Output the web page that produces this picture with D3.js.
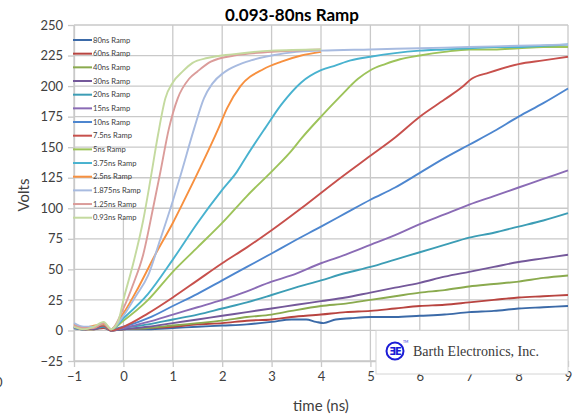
<!DOCTYPE html>
<html>
<head>
<meta charset="utf-8">
<script src="https://cdn.jsdelivr.net/npm/d3@7"></script>
<style>
  body { margin: 0; background: #fff; }
  svg { display: block; font-family: Lato, "Open Sans", sans-serif; }
</style>
</head>
<body>
<div id="chart"></div>
<script>
// Series names, in legend order
var seriesNames = ["80ns Ramp", "60ns Ramp", "40ns Ramp", "30ns Ramp", "20ns Ramp", "15ns Ramp",
    "10ns Ramp", "7.5ns Ramp", "5ns Ramp", "3.75ns Ramp", "2.5ns Ramp", "1.875ns Ramp",
    "1.25ns Ramp", "0.93ns Ramp"];

var seriesColors = ["#3b6aa8", "#b84440", "#8aaa4e", "#74589a", "#3c9db5", "#8a6bb5",
    "#4d86cf", "#c7504c", "#9dc35a", "#48b2cf", "#f7903f", "#a8bbe0", "#db9c9a", "#c4da9f"];

// [time (ns), volts]
var ramp80 = [[-1,3],[-0.8,1],[-0.6,2],[-0.4,3],[-0.25,0],[0,1],[0.5,1],[1,2],[1.5,3],[2,4],[2.5,5],
    [3,7],[3.4,9],[3.7,9],[3.9,7],[4.05,6],[4.3,9],[4.6,10],[5,11],[5.5,11],[6,12],[6.5,13],[7,15],
    [7.5,16],[8,18],[8.5,19],[9,20]];
var ramp60 = [[-1,2],[-0.8,1],[-0.6,1],[-0.4,2],[-0.25,0],[0,1],[0.5,2],[1,3],[1.5,5],[2,6],[2.5,8],
    [3,9],[3.4,11],[4,13],[4.5,15],[5,16],[5.5,18],[6,20],[6.5,21],[7,23],[7.5,25],[8,27],[8.5,28],[9,29]];
var ramp40 = [[-1,2],[-0.8,1],[-0.6,1],[-0.4,3],[-0.25,0],[0,1],[0.5,2],[1,4],[1.5,6],[2,8],[2.5,11],
    [3,13],[3.4,16],[4,20],[4.5,22],[5,25],[5.5,28],[6,31],[6.5,33],[7,36],[7.5,38],[8,40],[8.5,43],[9,45]];
var ramp30 = [[-1,3],[-0.8,2],[-0.6,1],[-0.4,3],[-0.25,0],[0,1],[0.5,3],[1,6],[1.5,9],[2,12],[2.5,15],
    [3,18],[3.5,21],[4,24],[4.5,27],[5,31],[5.5,35],[6,39],[6.5,44],[7,48],[7.5,52],[8,56],[8.5,59],[9,62]];
var ramp20 = [[-1,2],[-0.8,1],[-0.6,2],[-0.4,3],[-0.25,0],[0,2],[0.5,5],[1,9],[1.5,13],[2,18],[2.5,23],
    [3,29],[3.4,34],[4,41],[4.5,47],[5,52],[5.5,58],[6,64],[6.5,70],[7,76],[7.5,80],[8,85],[8.5,90],[9,96]];
var ramp15 = [[-1,3],[-0.8,1],[-0.6,2],[-0.4,4],[-0.25,0],[0,2],[0.5,7],[1,13],[1.5,19],[2,25],[2.5,32],
    [3,40],[3.4,45],[4,55],[4.5,62],[5,70],[5.5,78],[6,87],[6.5,95],[7,103],[7.5,110],[8,117],[8.5,124],[9,131]];
var ramp10 = [[-1,2],[-0.8,1],[-0.6,2],[-0.4,4],[-0.25,1],[0,3],[0.5,10],[1,20],[1.5,30],[2,41],[2.5,52],
    [3,63],[3.4,72],[4,85],[4.5,96],[5,107],[5.5,117],[6,129],[6.5,141],[7,152],[7.5,163],[8,175],[8.5,186],[9,198]];
var ramp7p5 = [[-1,3],[-0.8,1],[-0.6,2],[-0.4,4],[-0.25,0],[0,3],[0.5,14],[1,27],[1.5,41],[2,55],[2.5,68],
    [3,82],[3.6,100],[4.3,122],[5,143],[5.5,158],[6,175],[6.5,189],[6.85,199],[7.05,206],[7.4,211],[8,218],
    [8.5,221],[9,224]];
var ramp5 = [[-1,4],[-0.8,2],[-0.6,3],[-0.4,6],[-0.25,1],[0,8],[0.5,25],[1,48],[1.5,68],[2,88],[2.5,110],
    [3.05,132],[3.4,147],[3.6,157],[4,175],[4.4,192],[4.75,206],[5,213],[5.3,218],[5.6,222],[6,225],
    [6.5,228],[7,230],[7.5,230],[8,231],[8.5,232],[9,232]];
var ramp3p75 = [[-1,4],[-0.8,2],[-0.6,3],[-0.4,5],[-0.25,1],[0,10],[0.5,30],[1,58],[1.5,88],[2,115],
    [2.3,130],[2.5,143],[2.86,165],[3.2,185],[3.6,203],[4,213],[4.3,217],[4.6,221],[5,224],[5.5,227],
    [6,229],[6.5,230],[7,231],[7.5,232],[8,232],[8.5,233],[9,234]];
var ramp2p5 = [[-1,5],[-0.8,2],[-0.6,4],[-0.4,5],[-0.25,1],[0,14],[0.3,35],[0.67,64],[1,88],[1.2,104],
    [1.54,132],[1.92,165],[2.1,182],[2.37,200],[2.84,214],[3.2,220],[3.6,225],[4,228]];
var ramp1p875 = [[-1,6],[-0.8,3],[-0.6,3],[-0.4,6],[-0.25,1],[0,12],[0.25,28],[0.5,45],[0.75,75],[1,106],
    [1.15,126],[1.43,165],[1.63,190],[1.8,202],[2.03,211],[2.3,217],[2.58,221],[3,225],[3.5,228],[4,229],
    [5,230],[6,231],[7,232],[8,233],[9,234]];
var ramp1p25 = [[-1,4],[-0.8,2],[-0.6,2],[-0.4,6],[-0.25,1],[0,18],[0.2,38],[0.4,62],[0.6,100],[0.75,130],
    [0.92,165],[1.1,190],[1.33,206],[1.5,212],[1.77,220],[2.24,225],[3,228],[4,230]];
var ramp0p93 = [[-1,3],[-0.8,1],[-0.6,3],[-0.4,7],[-0.25,1],[-0.1,8],[0,25],[0.2,55],[0.4,90],[0.55,124],
    [0.7,160],[0.85,190],[1,203],[1.2,212],[1.4,219],[1.7,223],[2.2,226],[3,229],[4,230]];

var seriesData = [ramp80, ramp60, ramp40, ramp30, ramp20, ramp15, ramp10, ramp7p5, ramp5,
    ramp3p75, ramp2p5, ramp1p875, ramp1p25, ramp0p93];

var xTicks = [-1, 0, 1, 2, 3, 4, 5, 6, 7, 8, 9];
var yTicks = [-25, 0, 25, 50, 75, 100, 125, 150, 175, 200, 225, 250];

var width = 579, height = 417;
var gridColor = "#c9c9c9", textColor = "#404040";

var svg = d3.select("#chart")
    .append("svg")
    .attr("width", width)
    .attr("height", height);

var x = d3.scaleLinear().domain([-1, 9]).range([74, 568]);
var y = d3.scaleLinear().domain([-25, 250]).range([361, 25]);

// Gridlines
svg.append("g").selectAll("line")
    .data(yTicks)
    .enter()
    .append("line")
    .attr("x1", x(-1)).attr("x2", x(9))
    .attr("y1", function(d) { return y(d); })
    .attr("y2", function(d) { return y(d); })
    .attr("stroke", gridColor)
    .attr("stroke-width", 1.3);

// the x=0 gridline is hidden behind the legend at the top
svg.append("g").selectAll("line")
    .data(xTicks)
    .enter()
    .append("line")
    .attr("x1", function(d) { return x(d); })
    .attr("x2", function(d) { return x(d); })
    .attr("y1", function(d) { return d == 0 ? y(93) : y(250); })
    .attr("y2", y(-25))
    .attr("stroke", gridColor)
    .attr("stroke-width", 1.3);

// Axes with outside ticks
var yAxis = svg.append("g")
    .attr("transform", "translate(" + x(-1) + ",0)")
    .call(d3.axisLeft(y).tickValues(yTicks).tickSize(6).tickSizeOuter(0).tickPadding(5));
var xAxis = svg.append("g")
    .attr("transform", "translate(0," + y(-25) + ")")
    .call(d3.axisBottom(x).tickValues(xTicks).tickSize(6).tickSizeOuter(0).tickPadding(5));

[yAxis, xAxis].forEach(function(ax) {
    ax.select(".domain").attr("stroke", gridColor).attr("stroke-width", 1.3);
    ax.selectAll(".tick line").attr("stroke", gridColor).attr("stroke-width", 1.3);
    ax.selectAll(".tick text")
        .attr("fill", textColor)
        .style("font-size", "13px")
        .style("font-family", "Lato, sans-serif");
});

// stray clipped label at far left
svg.append("text")
    .attr("x", -5).attr("y", 387)
    .attr("fill", textColor)
    .style("font-size", "13px")
    .text("0");

// Series lines
var line = d3.line()
    .x(function(d) { return x(d[0]); })
    .y(function(d) { return y(d[1]); })
    .curve(d3.curveMonotoneX);

svg.append("g").selectAll("path")
    .data(seriesData)
    .enter()
    .append("path")
    .attr("d", line)
    .attr("fill", "none")
    .attr("stroke", function(d, i) { return seriesColors[i]; })
    .attr("stroke-width", 1.9)
    .attr("stroke-linejoin", "round");

// Legend
var legend = svg.append("g").selectAll("g")
    .data(seriesNames)
    .enter()
    .append("g")
    .attr("transform", function(d, i) { return "translate(73," + (40 + i * 13.67) + ")"; });

legend.append("line")
    .attr("x1", 0).attr("x2", 19)
    .attr("stroke", function(d, i) { return seriesColors[i]; })
    .attr("stroke-width", 2);

legend.append("text")
    .attr("x", 20).attr("y", 2.6)
    .attr("fill", textColor)
    .style("font-size", "7.6px")
    .text(function(d) { return d; });

// Title and axis titles
svg.append("text")
    .attr("x", 292).attr("y", 21)
    .attr("text-anchor", "middle")
    .attr("fill", "#000")
    .style("font-size", "17px")
    .style("font-weight", "bold")
    .text("0.093-80ns Ramp");

svg.append("text")
    .attr("transform", "translate(29,195) rotate(-90)")
    .attr("text-anchor", "middle")
    .attr("fill", textColor)
    .style("font-size", "15px")
    .text("Volts");

svg.append("text")
    .attr("x", 321).attr("y", 411)
    .attr("text-anchor", "middle")
    .attr("fill", textColor)
    .style("font-size", "15px")
    .text("time (ns)");

// Company logo box
var logo = svg.append("g");
logo.append("rect")
    .attr("x", 376).attr("y", 330.5)
    .attr("width", 192).attr("height", 43.5)
    .attr("fill", "#fff")
    .attr("stroke", "#d4d4d4")
    .attr("stroke-width", 1);

logo.append("circle")
    .attr("cx", 395).attr("cy", 351)
    .attr("r", 8.5)
    .attr("fill", "none")
    .attr("stroke", "#1c1cd6")
    .attr("stroke-width", 2);

logo.append("text")
    .attr("x", 395).attr("y", 355)
    .attr("text-anchor", "middle")
    .attr("fill", "#1c1cd6")
    .style("font-family", "'DejaVu Sans', sans-serif")
    .style("font-size", "10px")
    .style("font-weight", "bold")
    .style("letter-spacing", "-1px")
    .text("ƎE");

logo.append("text")
    .attr("x", 403).attr("y", 343)
    .attr("fill", "#1c1cd6")
    .style("font-size", "3.5px")
    .text("TM");

logo.append("text")
    .attr("x", 413).attr("y", 356)
    .attr("fill", "#3a3a3a")
    .style("font-family", "'Liberation Serif', 'DejaVu Serif', serif")
    .style("font-size", "14px")
    .text("Barth Electronics, Inc.");
</script>
</body>
</html>
